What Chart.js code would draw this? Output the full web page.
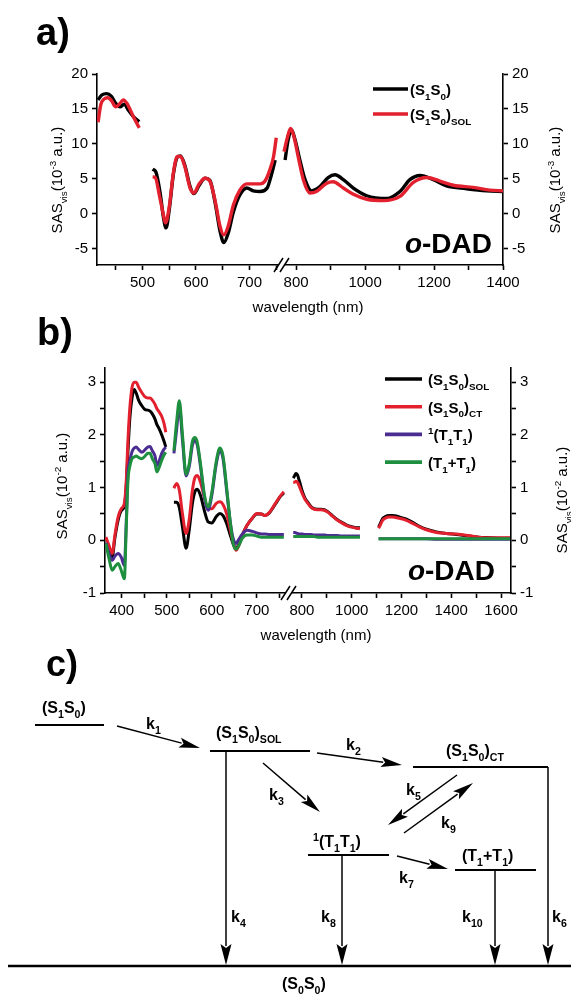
<!DOCTYPE html>
<html>
<head>
<meta charset="utf-8">
<script src="https://cdn.jsdelivr.net/npm/chart.js@4.4.0/dist/chart.umd.min.js"></script>
<style>
  body { margin: 0; width: 571px; height: 994px; position: relative; background: #fff; overflow: hidden; }
  canvas { position: absolute; left: 0; }
  #cA { top: 50px; }
  #cB { top: 340px; }
  #ink { position: absolute; left: 0; top: 0; pointer-events: none; }
</style>
</head>
<body>
<canvas id="cA" width="571" height="250"></canvas>
<canvas id="cB" width="571" height="290"></canvas>
<svg id="ink" width="571" height="994" xmlns="http://www.w3.org/2000/svg"></svg>
<script>
// ---- panel a data (wavelength nm, SAS in 10^-3 a.u.; null = gap) ----
const aBlackWl = [417,424,433,442,450,458,466,473,483,494, 505,
  519,525,533,539,544,550,558,565,571,579,589,596,606,617,626,636,645,652,660,670,682,695,707,720,733,741,748, 757,
  768,777,787,797,811,826,845,869,893,913,937,966,1005,1063,1101,1130,1159,1198,1236,1294,1352,1400];
const aBlack = [16.3,17.0,17.2,16.8,15.8,15.3,15.7,14.9,13.9,13.2, null,
  6.4,6.0,3.0,-0.4,-2.0,0.6,5.8,8.1,8.3,7.0,3.9,2.9,4.1,5.1,4.8,1.5,-2.5,-4.1,-2.8,0.3,2.7,3.7,3.3,3.2,3.7,5.6,7.7, null,
  7.7,10.6,12.0,10.6,7.7,4.9,3.3,3.9,5.2,5.6,4.9,3.7,2.6,2.2,3.2,4.9,5.5,4.9,4.0,3.6,3.3,3.2];
const aRedWl = [417,422,428,435,442,450,458,464,471,483,494, 505,
  519,524,532,539,543,550,558,565,571,579,589,596,606,617,626,636,645,652,660,670,682,695,707,720,729,738,745,750, 757,
  765,774,784,794,806,821,840,859,889,907,937,966,1005,1053,1101,1140,1179,1217,1256,1314,1362,1400];
const aRed = [13.1,15.6,16.4,16.6,16.2,15.3,15.8,16.3,15.8,13.9,12.3, null,
  5.3,5.2,2.5,-0.1,-1.3,1.0,6.0,8.2,8.2,6.8,3.7,3.0,4.3,5.1,4.7,1.8,-1.8,-3.0,-1.8,1.3,3.4,4.3,4.3,4.3,4.7,6.3,8.2,10.9, null,
  8.9,10.8,12.2,11.0,8.2,4.9,3.0,3.2,4.4,4.6,3.7,2.8,2.1,1.9,2.5,4.5,5.2,4.7,4.1,3.8,3.4,3.3];
const aTicks1 = [450,500,550,600,650,700,750];
const aTicks2 = [800,900,1000,1100,1200,1300,1400];
const aTickLabels = [500,600,700,800,1000,1200,1400];
const aYTicks = [-5,-2.5,0,2.5,5,7.5,10,12.5,15,17.5,20];
const aYLabels = [-5,0,5,10,15,20];

// ---- panel b data (SAS in 10^-2 a.u.) ----
const bWl = [365,372,379,385,392,399,406,410,414,418,423,428,432,438,445,452,458,463,468,474,478,483,489,494,498, 506,
  516,522,528,535,543,550,557,563,568,575,584,592,600,610,618,625,633,641,648,654,660,668,678,690,700,710,718,728,736,745,752,760, 763,
  765,770,776,782,790,800,812,824,836,848,862,876,890,905,922,940,960,980,1000,1018,1033, 1070,
  1108,1116,1124,1135,1150,1164,1180,1200,1220,1245,1270,1300,1340,1380,1420,1470,1510,1560,1600,1636];
const bSol = [-0.06,-0.2,-0.32,0.05,0.38,0.56,0.65,1.0,1.7,2.3,2.7,2.86,2.8,2.65,2.55,2.48,2.47,2.45,2.4,2.3,2.2,2.12,2.0,1.88,1.77, null,
  0.72,0.72,0.62,0.25,-0.15,0.2,0.7,0.93,0.97,0.85,0.55,0.35,0.33,0.45,0.51,0.47,0.32,0.1,-0.08,-0.15,-0.08,0.1,0.28,0.42,0.5,0.5,0.47,0.52,0.62,0.74,0.83,0.9, null,
  1.18,1.22,1.27,1.24,1.12,0.95,0.8,0.72,0.64,0.6,0.59,0.59,0.58,0.54,0.47,0.4,0.34,0.29,0.26,0.24,0.24, null,
  0.25,0.33,0.41,0.45,0.47,0.47,0.46,0.43,0.4,0.34,0.27,0.21,0.16,0.13,0.11,0.08,0.06,0.05,0.04,0.04];
const bCt = [0.06,-0.1,-0.25,0.1,0.44,0.6,0.7,1.1,1.9,2.5,2.9,3.0,3.0,2.9,2.8,2.72,2.7,2.7,2.66,2.58,2.5,2.44,2.35,2.22,2.05, null,
  0.99,1.08,0.95,0.5,0.13,0.4,0.95,1.2,1.23,1.1,0.8,0.6,0.6,0.7,0.73,0.68,0.5,0.2,-0.05,-0.19,-0.1,0.1,0.28,0.42,0.51,0.5,0.47,0.53,0.63,0.75,0.84,0.92, null,
  1.1,1.1,1.12,1.1,1.02,0.9,0.78,0.7,0.63,0.59,0.58,0.58,0.57,0.53,0.46,0.39,0.33,0.28,0.25,0.23,0.22, null,
  0.23,0.3,0.38,0.42,0.44,0.44,0.43,0.41,0.38,0.32,0.26,0.2,0.15,0.13,0.12,0.09,0.06,0.05,0.05,0.05];
const bTT = [-0.05,-0.25,-0.38,-0.3,-0.25,-0.32,-0.48,0.3,1.27,1.5,1.68,1.75,1.77,1.72,1.67,1.72,1.77,1.78,1.7,1.6,1.42,1.5,1.65,1.73,1.77, null,
  1.65,2.1,2.55,1.9,1.22,1.4,1.8,1.9,1.8,1.4,0.8,0.57,0.85,1.45,1.7,1.55,0.95,0.35,0.02,-0.06,0.02,0.12,0.19,0.17,0.14,0.12,0.12,0.11,0.11,0.11,0.11,0.11, null,
  0.15,0.15,0.14,0.13,0.12,0.12,0.11,0.11,0.11,0.1,0.1,0.1,0.1,0.09,0.09,0.09,0.08,0.08,0.08,0.08,0.08, null,
  0.03,0.03,0.03,0.03,0.03,0.03,0.03,0.03,0.03,0.03,0.03,0.03,0.02,0.02,0.02,0.02,0.02,0.02,0.02,0.02];
const bTpT = [-0.06,-0.35,-0.57,-0.5,-0.44,-0.57,-0.73,0.2,1.14,1.4,1.55,1.58,1.6,1.57,1.55,1.6,1.65,1.65,1.55,1.45,1.3,1.38,1.52,1.62,1.67, null,
  1.7,2.25,2.65,2.0,1.25,1.45,1.88,1.95,1.85,1.45,0.85,0.63,0.9,1.5,1.75,1.6,1.0,0.35,-0.08,-0.17,-0.1,0.04,0.1,0.1,0.08,0.06,0.06,0.06,0.06,0.06,0.06,0.06, null,
  0.07,0.07,0.07,0.07,0.07,0.07,0.07,0.07,0.07,0.07,0.06,0.06,0.06,0.06,0.06,0.06,0.06,0.06,0.06,0.06,0.06, null,
  0.03,0.03,0.03,0.03,0.03,0.03,0.03,0.03,0.03,0.03,0.03,0.03,0.03,0.03,0.03,0.03,0.03,0.03,0.03,0.03];
const bTicks1 = [400,450,500,550,600,650,700,750];
const bTicks2 = [800,900,1000,1100,1200,1300,1400,1500,1600];
const bTickLabels = [400,500,600,700,800,1000,1200,1400,1600];
const bYTicks = [-1,-0.5,0,0.5,1,1.5,2,2.5,3];
const bYLabels = [-1,0,1,2,3];

const FONT = '"Liberation Sans", Arial, Helvetica, sans-serif';
const RED = '#e2202e', PURPLE = '#4b2d91', GREEN = '#1e8f3e';

// broken axis: each segment is [nm from, nm to, u from, u to]
const aSegs = [[415, 757, 0, 183], [762, 1400, 186, 406]];
const bSegs = [[363, 767, 0, 182], [752, 1640, 185, 406]];

function toU(w, segs, cut) {
  const s = w <= cut ? segs[0] : segs[1];
  return s[2] + (w - s[0]) * (s[3] - s[2]) / (s[1] - s[0]);
}
function pts(wl, vals, segs, cut) {
  return wl.map((w, i) => ({ x: toU(w, segs, cut), y: vals[i] }));
}

function axisLook() {
  return {
    border: { display: true, color: '#000', width: 1.6 },
    grid: { drawOnChartArea: false, drawTicks: true, tickLength: 5, tickColor: '#000', tickWidth: 1.6 },
  };
}
function tickFont() { return { family: FONT, size: 15 }; }

function spectrum(id, p) {
  // first list on the left piece, second list on the right piece
  const xTicks = p.t1.map(w => toU(w, p.segs, 99999)).concat(p.t2.map(w => toU(w, p.segs, -1)));
  const xWl = p.t1.concat(p.t2);
  const yAxis = (pos, w) => Object.assign(axisLook(), {
    position: pos, min: p.ymin, max: p.ymax,
    ticks: { color: '#000', font: tickFont(), padding: 4, callback: v => p.yLab.includes(v) ? String(v) : '' },
    afterBuildTicks: s => { s.ticks = p.yTicks.map(v => ({ value: v })); },
    afterFit: s => { s.width = w; }
  });
  return new Chart(document.getElementById(id), {
    type: 'line',
    data: {
      datasets: p.series.map(s => ({
        data: pts(s.wl, s.v, p.segs, p.cut), borderColor: s.color, borderWidth: s.w,
        pointRadius: 0, cubicInterpolationMode: 'monotone', spanGaps: false, order: s.order, fill: false
      }))
    },
    options: {
      responsive: false, animation: false, events: [],
      layout: { padding: { top: p.padTop, left: 0, right: 0, bottom: 0 } },
      plugins: { legend: { display: false }, tooltip: { enabled: false } },
      scales: {
        x: Object.assign(axisLook(), {
          type: 'linear', min: 0, max: 406,
          ticks: { color: '#000', font: tickFont(), padding: 4, autoSkip: false, maxRotation: 0,
            callback: (v, i) => p.xLab.includes(xWl[i]) ? String(xWl[i]) : '' },
          afterBuildTicks: s => { s.ticks = xTicks.map(u => ({ value: u })); },
          afterFit: s => { s.height = p.xh; }
        }),
        y: yAxis('left', p.lw),
        y2: yAxis('right', p.rw)
      }
    },
    plugins: [{
      id: 'axisBreak',
      afterDraw(c) {
        const ctx = c.ctx, bx = c.scales.x.getPixelForValue(p.brk), by = c.chartArea.bottom;
        ctx.save();
        ctx.fillStyle = '#fff';
        ctx.fillRect(bx - 3, by - 2, 6, 4);
        ctx.strokeStyle = '#000'; ctx.lineWidth = 1.5;
        ctx.beginPath();
        ctx.moveTo(bx - 7.5, by + 7); ctx.lineTo(bx + 1.5, by - 7);
        ctx.moveTo(bx - 1.5, by + 7); ctx.lineTo(bx + 7.5, by - 7);
        ctx.stroke();
        ctx.restore();
      }
    }]
  });
}

spectrum('cA', {
  segs: aSegs, cut: 760, t1: aTicks1, t2: aTicks2, xLab: aTickLabels,
  yTicks: aYTicks, yLab: aYLabels, ymin: -7.3, ymax: 20,
  padTop: 24, xh: 35, lw: 97, rw: 68, brk: 184.5,
  series: [
    { wl: aBlackWl, v: aBlack, color: '#000', w: 3.4, order: 1 },
    { wl: aRedWl, v: aRed, color: RED, w: 3.4, order: 0 }
  ]
});

spectrum('cB', {
  segs: bSegs, cut: 763, t1: bTicks1, t2: bTicks2, xLab: bTickLabels,
  yTicks: bYTicks, yLab: bYLabels, ymin: -1, ymax: 3.27,
  padTop: 28, xh: 37, lw: 105, rw: 60, brk: 183.5,
  series: [
    { wl: bWl, v: bSol, color: '#000', w: 3, order: 3 },
    { wl: bWl, v: bCt, color: RED, w: 3, order: 2 },
    { wl: bWl, v: bTT, color: PURPLE, w: 3, order: 1 },
    { wl: bWl, v: bTpT, color: GREEN, w: 3, order: 0 }
  ]
});

// ---- text, legends and the kinetic scheme (svg) ----
function rich(src, size) {
  let out = '', shift = 0;
  src.replace(/([_^])\{([^}]*)\}|([^_^]+)/g, (m, mark, inner, plain) => {
    const want = mark === '_' ? size * 0.3 : mark === '^' ? -size * 0.4 : 0;
    const fs = mark ? size * 0.66 : size;
    out += `<tspan dy="${(want - shift).toFixed(1)}" font-size="${fs.toFixed(1)}">${mark ? inner : plain}</tspan>`;
    shift = want;
  });
  return out;
}
function txt(x, y, src, size, bold, anchor, rot) {
  const t = `<text x="${x}" y="${y}" font-size="${size}" font-weight="${bold ? 'bold' : 'normal'}" text-anchor="${anchor || 'start'}">${rich(src, size)}</text>`;
  return rot ? `<g transform="rotate(-90 ${x} ${y})">${t}</g>` : t;
}
function line(x1, y1, x2, y2, w) {
  return `<line x1="${x1}" y1="${y1}" x2="${x2}" y2="${y2}" stroke="#000" stroke-width="${w}"/>`;
}
function arrow(x1, y1, x2, y2, len, hw) {
  const d = Math.hypot(x2 - x1, y2 - y1), ux = (x2 - x1) / d, uy = (y2 - y1) / d;
  const bx = x2 - ux * len, by = y2 - uy * len;
  return line(x1, y1, bx + ux * 2, by + uy * 2, 1.5) +
    `<polygon points="${x2},${y2} ${bx - uy * hw},${by + ux * hw} ${bx + ux * 4},${by + uy * 4} ${bx + uy * hw},${by - ux * hw}" fill="#000"/>`;
}

let s = `<g font-family='${FONT}' fill="#000">`;
// panel labels
s += txt(36, 45, 'a)', 38, true) + txt(37, 345, 'b)', 38, true) + txt(46, 676, 'c)', 36, true);
// panel a texts
s += txt(62, 180, 'SAS_{vis}(10^{-3} a.u.)', 15, false, 'middle', true);
s += txt(560, 180, 'SAS_{vis}(10^{-3} a.u.)', 15, false, 'middle', true);
s += txt(308, 312, 'wavelength (nm)', 15, false, 'middle');
s += line(373, 89, 408, 89, 3.6) + txt(410, 95, '(S_{1}S_{0})', 15, true);
s += `<line x1="373" y1="114" x2="408" y2="114" stroke="${RED}" stroke-width="3.6"/>` + txt(410, 120, '(S_{1}S_{0})_{SOL}', 15, true);
s += `<text x="492" y="253" font-size="28" font-weight="bold" text-anchor="end"><tspan font-style="italic">o</tspan>-DAD</text>`;
// panel b texts
s += txt(67, 486, 'SAS_{vis}(10^{-2} a.u.)', 15, false, 'middle', true);
s += txt(567, 500, 'SAS_{vis}(10^{-2} a.u.)', 15, false, 'middle', true);
s += txt(316, 640, 'wavelength (nm)', 15, false, 'middle');
const bLeg = [['#000', '(S_{1}S_{0})_{SOL}'], [RED, '(S_{1}S_{0})_{CT}'], [PURPLE, '^{1}(T_{1}T_{1})'], [GREEN, '(T_{1}+T_{1})']];
bLeg.forEach((l, i) => {
  const y = 379 + i * 27.7;
  s += `<line x1="385" y1="${y}" x2="422" y2="${y}" stroke="${l[0]}" stroke-width="3.6"/>` + txt(428, y + 6, l[1], 15, true);
});
s += `<text x="495" y="580" font-size="28" font-weight="bold" text-anchor="end"><tspan font-style="italic">o</tspan>-DAD</text>`;

// scheme: levels
const levels = [[35, 104, 725], [210, 310, 751], [413, 548, 767], [308, 389, 855], [455, 536, 870]];
levels.forEach(l => { s += line(l[0], l[2], l[1], l[2], 2.2); });
s += line(8, 966, 571, 966, 2.6);
// decay arrows to ground
[[226, 751], [342, 855], [495, 870], [548, 767]].forEach(a => { s += arrow(a[0], a[1], a[0], 965, 21, 5.5); });
// transfer arrows
[[117, 726, 200, 748], [317, 753, 402, 765], [263, 763, 320, 812], [457, 775, 388, 825], [404, 833, 473, 783], [397, 856, 448, 869]]
  .forEach(a => { s += arrow(a[0], a[1], a[2], a[3], 21, 5); });
const schemeText = [
  [42, 713, '(S_{1}S_{0})'], [146, 729, 'k_{1}'], [216, 738, '(S_{1}S_{0})_{SOL}'], [346, 750, 'k_{2}'],
  [446, 756, '(S_{1}S_{0})_{CT}'], [269, 800, 'k_{3}'], [406, 795, 'k_{5}'], [441, 828, 'k_{9}'],
  [313, 847, '^{1}(T_{1}T_{1})'], [399, 883, 'k_{7}'], [462, 861, '(T_{1}+T_{1})'], [231, 922, 'k_{4}'],
  [321, 922, 'k_{8}'], [462, 922, 'k_{10}'], [552, 922, 'k_{6}'], [282, 989, '(S_{0}S_{0})']
];
schemeText.forEach(t => { s += txt(t[0], t[1], t[2], 16, true); });
s += '</g>';
document.getElementById('ink').innerHTML = s;
</script>
</body>
</html>
